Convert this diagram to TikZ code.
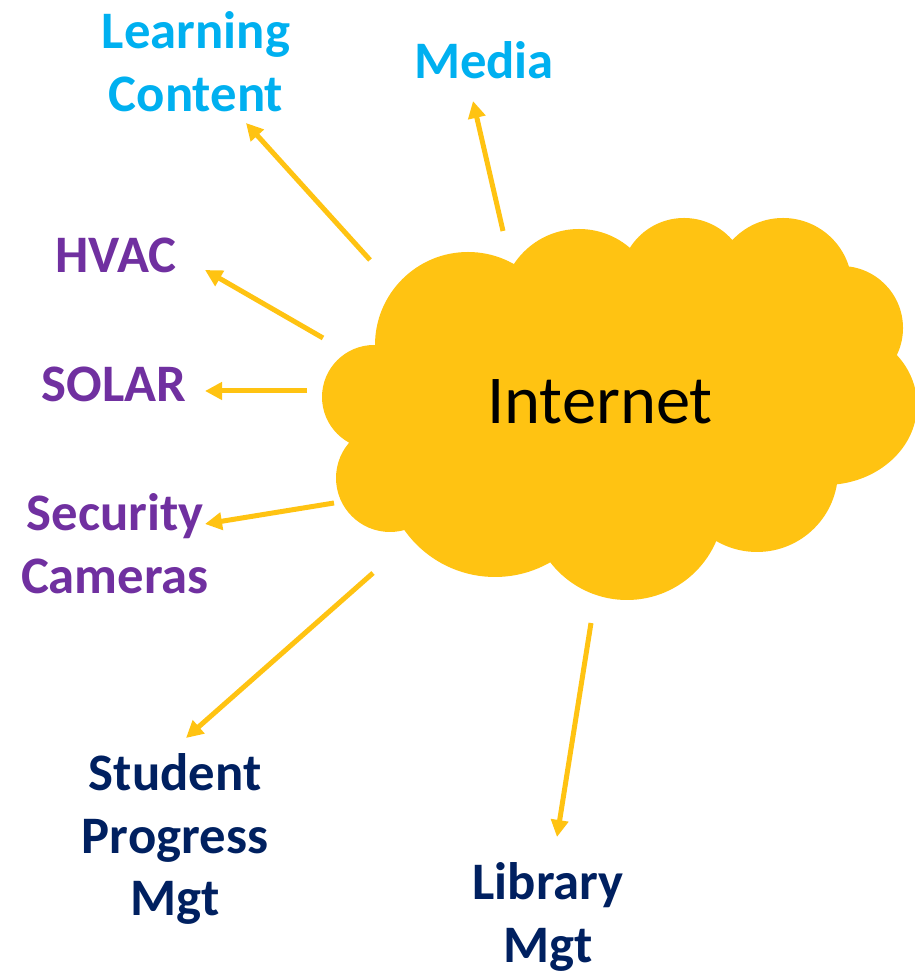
\documentclass[tikz,border=0pt]{standalone}
\usepackage{fontspec}
\setmainfont{Carlito}
\usetikzlibrary{arrows.meta}
\definecolor{gold}{HTML}{FFC312}
\definecolor{skyb}{HTML}{00B0F0}
\definecolor{purp}{HTML}{7030A0}
\definecolor{navy}{HTML}{002060}

\begin{document}
\begin{tikzpicture}[semithick,
  arr/.style={draw=gold,line width=0.05cm,-{Triangle[length=0.17cm,width=0.17cm]}},
  lbl/.style={font=\fontsize{15}{17.9}\selectfont\bfseries,align=center,inner sep=0pt}]
\useasboundingbox (0,0) rectangle (9.14,9.73);
% cloud
\fill[gold] (4.68,6.28) circle (0.93) (5.79,6.66) circle (0.78)
(6.84,6.91) circle (0.64) (7.83,6.86) circle (0.69)
(8.41,6.45) circle (0.62) (8.25,5.68) ellipse (0.92 and 0.80)
(7.57,5.02) circle (0.81) (6.27,4.70) circle (0.97)
(4.95,5.07) circle (1.11) (3.90,4.95) circle (0.54)
(3.74,5.76) circle (0.52) (6.2,5.7) ellipse (2.2 and 1.3);
\node[inner sep=0pt] (net) at (6.00,5.71) {\fontsize{19.5}{22}\selectfont Internet};
% labels
\node[lbl,skyb] (lc) at (1.96,9.11) {Learning\\Content};
\node[lbl,skyb] (md) at (4.84,9.13) {Media};
\node[lbl,purp] (hv) at (1.16,7.18) {HVAC};
\node[lbl,purp] (so) at (1.14,5.89) {SOLAR};
\node[lbl,purp] (se) at (1.15,4.29) {Security\\Cameras};
\node[lbl,navy] (sp) at (1.75,1.34) {Student\\Progress\\Mgt};
\node[lbl,navy] (li) at (5.48,0.56) {Library\\Mgt};
% arrow ends
\coordinate (lc0) at (3.70,7.13); \coordinate (lc1) at (2.46,8.50);
\coordinate (md0) at (5.03,7.42); \coordinate (md1) at (4.73,8.72);
\coordinate (hv0) at (3.23,6.35); \coordinate (hv1) at (2.05,7.03);
\coordinate (so0) at (3.07,5.82); \coordinate (so1) at (2.05,5.82);
\coordinate (se0) at (3.34,4.70); \coordinate (se1) at (2.05,4.49);
\coordinate (sp0) at (3.73,4.00); \coordinate (sp1) at (1.86,2.35);
\coordinate (li0) at (5.91,3.50); \coordinate (li1) at (5.57,1.36);
\foreach \a in {lc,md,hv,so,se,sp,li} \draw[arr] (\a0) -- (\a1);
\end{tikzpicture}
\end{document}
